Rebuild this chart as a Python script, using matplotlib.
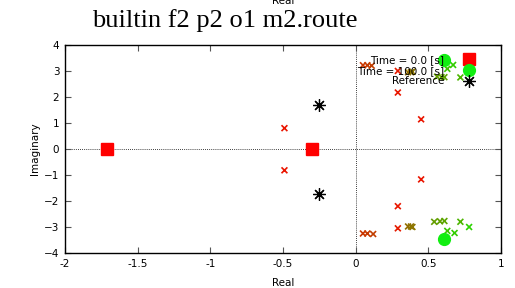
import numpy as np
import matplotlib
matplotlib.use('Agg')
import matplotlib.pyplot as plt
from matplotlib.colors import LinearSegmentedColormap

#-- poles at t = 0 and t = 100, and the reference poles
start_re = [-1.71, -0.30]
start_im = [0.0, 0.0]
end_re = [0.61, 0.61]
end_im = [3.42, -3.45]
ref_re = [-0.255, -0.255]
ref_im = [1.70, -1.73]

#-- intermediate poles, coloured by time [s]
traj_re = [-0.49, -0.49, 0.05, 0.08, 0.11, 0.05, 0.08, 0.12, 0.29, 0.29,
           0.45, 0.45, 0.29, 0.29, 0.36, 0.38, 0.39, 0.36, 0.38, 0.39,
           0.56, 0.59, 0.61, 0.54, 0.58, 0.61, 0.63, 0.67, 0.63, 0.68,
           0.72, 0.72, 0.78, 0.78]
traj_im = [0.80, -0.82, 3.22, 3.22, 3.20, -3.25, -3.25, -3.27, 2.17, -2.20,
           1.14, -1.17, 3.00, -3.05, 2.95, 2.95, 2.97, -2.98, -2.98, -3.00,
           2.78, 2.76, 2.76, -2.80, -2.78, -2.77, 3.08, 3.23, -3.15, -3.23,
           2.75, -2.80, 3.00, -3.00]
traj_t = [2, 2, 18, 20, 22, 18, 20, 22, 3, 3,
          2, 2, 5, 5, 45, 47, 49, 45, 47, 49,
          68, 70, 72, 68, 70, 72, 88, 92, 88, 92,
          80, 80, 95, 95]

cmap = LinearSegmentedColormap.from_list('rg', ['#ee1100', '#8a7800', '#22dd00'])

fig = plt.figure(figsize=(5.15, 2.88), dpi=100)
ax = fig.add_axes([0.126, 0.1215, 0.847, 0.7225])

ax.axhline(0, color='k', lw=0.6, ls=(0, (1, 1.5)), zorder=1)
ax.axvline(0, color='k', lw=0.6, ls=(0, (1, 1.5)), zorder=1)

ax.scatter(traj_re, traj_im, c=traj_t, cmap=cmap, vmin=0, vmax=100,
           marker='x', s=18, linewidths=1.2, zorder=3)

ax.plot(start_re, start_im, 's', color='#ff0000', ms=8, ls='none',
        label='Time = 0.0 [s]', zorder=4)
ax.plot(end_re, end_im, 'o', color='#11ee11', ms=8.5, ls='none',
        label='Time = 100.0 [s]', zorder=4)
ax.plot(ref_re, ref_im, marker=(8, 2, 0), color='k', ms=9, mew=0.9,
        ls='none', label='Reference', zorder=4)

ax.set_xlim(-2, 1)
ax.set_ylim(-4, 4)
ax.set_xticks([-2, -1.5, -1, -0.5, 0, 0.5, 1])
ax.set_xticklabels(['-2', '-1.5', '-1', '-0.5', '0', '0.5', '1'])
ax.set_yticks(range(-4, 5))
ax.tick_params(direction='in', top=True, right=True, labelsize=7.5,
               length=4, width=0.8, color='#555555', pad=4)
for s in ax.spines.values():
    s.set_linewidth(1.0)

ax.set_xlabel('Real', fontsize=7.5, labelpad=7)
ax.set_ylabel('Imaginary', fontsize=7.5, labelpad=3)
fig.text(0.549, 0.997, 'Real', fontsize=7.5, ha='center', va='center')
fig.text(0.437, 0.93, 'builtin f2 p2 o1 m2.route', fontsize=19,
         family='Liberation Serif', ha='center', va='center')

ax.legend(loc='upper right', bbox_to_anchor=(0.957, 0.991), frameon=False,
          markerfirst=False, fontsize=7.5, handlelength=1.0,
          handletextpad=1.85, labelspacing=0.05, borderpad=0.3)

fig.savefig('out.png', dpi=100)
